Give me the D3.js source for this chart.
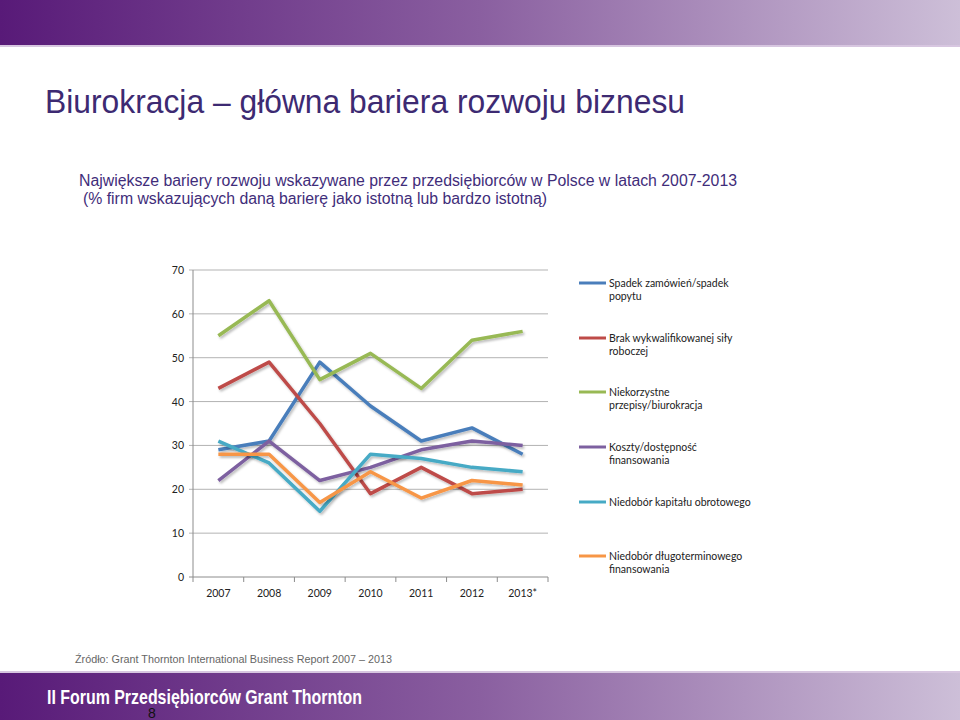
<!doctype html>
<html>
  <head>
    <meta charset="utf-8">
    <title>Biurokracja – główna bariera rozwoju biznesu</title>
    <script src="https://cdnjs.cloudflare.com/ajax/libs/d3/7.8.5/d3.min.js"></script>
    <style>
      body { margin: 0; background: #fff; }
      svg { display: block; }
    </style>
  </head>
  <body>
    <div id="chart"></div>
    <script>
      // lata i wartosci (% firm)
      const years = ['2007', '2008', '2009', '2010', '2011', '2012', '2013*'];
      const yTicks = [0, 10, 20, 30, 40, 50, 60, 70];

      const spadekPopytu = [29, 31, 49, 39, 31, 34, 28];
      const brakSilyRoboczej = [43, 49, 35, 19, 25, 19, 20];
      const biurokracja = [55, 63, 45, 51, 43, 54, 56];
      const kosztyFinansowania = [22, 31, 22, 25, 29, 31, 30];
      const kapitalObrotowy = [31, 26, 15, 28, 27, 25, 24];
      const dlugoterminowe = [28, 28, 17, 24, 18, 22, 21];

      const seriesNames = [
        ['Spadek zamówień/spadek', 'popytu'],
        ['Brak wykwalifikowanej siły', 'roboczej'],
        ['Niekorzystne', 'przepisy/biurokracja'],
        ['Koszty/dostępność', 'finansowania'],
        ['Niedobór kapitału obrotowego'],
        ['Niedobór długoterminowego', 'finansowania']
      ];
      const seriesValues = [spadekPopytu, brakSilyRoboczej, biurokracja,
        kosztyFinansowania, kapitalObrotowy, dlugoterminowe];
      const colors = ['#4a7ebb', '#be4b48', '#98b954', '#7d60a0', '#46aac5', '#f79646'];

      const svg = d3.select('#chart').append('svg')
        .attr('width', 960)
        .attr('height', 720);

      const defs = svg.append('defs');
      const grad = defs.append('linearGradient').attr('id', 'bar');
      grad.append('stop').attr('offset', '0%').attr('stop-color', '#581a78');
      grad.append('stop').attr('offset', '50%').attr('stop-color', '#8a5fa0');
      grad.append('stop').attr('offset', '100%').attr('stop-color', '#cdbfd8');

      const shadow = defs.append('filter').attr('id', 'shadow')
        .attr('x', '-10%').attr('y', '-10%').attr('width', '120%').attr('height', '130%');
      shadow.append('feDropShadow')
        .attr('dx', 1.5).attr('dy', 2).attr('stdDeviation', 1.2)
        .attr('flood-color', '#000').attr('flood-opacity', 0.25);

      // pasek u gory
      svg.append('rect').attr('x', 0).attr('y', 0).attr('width', 960).attr('height', 45)
        .attr('fill', 'url(#bar)');
      svg.append('rect').attr('x', 0).attr('y', 45).attr('width', 960).attr('height', 2)
        .attr('fill', '#d7c6e0');

      // tytul (w oryginale czcionka jest troche scisnieta w poziomie)
      svg.append('text')
        .attr('x', 45).attr('y', 113)
        .attr('textLength', 640)
        .attr('lengthAdjust', 'spacingAndGlyphs')
        .style('font-family', '"Liberation Sans", Arial, sans-serif')
        .style('font-size', '33px')
        .style('fill', '#3d2a72')
        .text('Biurokracja – główna bariera rozwoju biznesu');

      svg.append('text')
        .attr('x', 79).attr('y', 186)
        .attr('textLength', 658)
        .attr('lengthAdjust', 'spacingAndGlyphs')
        .style('font-family', '"Liberation Sans", Arial, sans-serif')
        .style('font-size', '16px')
        .style('fill', '#3f2d7a')
        .text('Największe bariery rozwoju wskazywane przez przedsiębiorców w Polsce w latach 2007-2013');

      svg.append('text')
        .attr('x', 83).attr('y', 204)
        .attr('textLength', 464)
        .attr('lengthAdjust', 'spacingAndGlyphs')
        .style('font-family', '"Liberation Sans", Arial, sans-serif')
        .style('font-size', '16px')
        .style('fill', '#3f2d7a')
        .text('(% firm wskazujących daną barierę jako istotną lub bardzo istotną)');

      // wykres
      const plotLeft = 193, plotRight = 548, plotTop = 270, plotBottom = 577;

      const x = d3.scaleBand().domain(years).range([plotLeft, plotRight]);
      const y = d3.scaleLinear().domain([0, 70]).range([plotBottom, plotTop]);

      svg.append('g')
        .selectAll('line')
        .data(yTicks)
        .join('line')
        .attr('x1', plotLeft - 4).attr('x2', plotRight)
        .attr('y1', d => y(d)).attr('y2', d => y(d))
        .attr('stroke', d => d === 0 ? '#8c8c8c' : '#b3b3b3')
        .attr('stroke-width', 1);

      svg.append('line')
        .attr('x1', plotLeft).attr('x2', plotLeft)
        .attr('y1', plotTop).attr('y2', plotBottom)
        .attr('stroke', '#8c8c8c');

      svg.append('g')
        .selectAll('text')
        .data(yTicks)
        .join('text')
        .attr('x', plotLeft - 9)
        .attr('y', d => y(d) + 4)
        .attr('text-anchor', 'end')
        .style('font-family', 'Lato, "Open Sans", sans-serif')
        .style('font-size', '10.5px')
        .style('fill', '#222')
        .text(d => d);

      const xAxis = d3.axisBottom(x).tickSize(0).tickPadding(13);
      const gx = svg.append('g').attr('transform', `translate(0,${plotBottom})`).call(xAxis);
      gx.select('.domain').remove();
      gx.selectAll('text')
        .style('font-family', 'Lato, "Open Sans", sans-serif')
        .style('font-size', '10.5px')
        .style('fill', '#222');

      // kreski osi x na granicach kategorii
      svg.append('g').selectAll('line')
        .data(d3.range(years.length + 1))
        .join('line')
        .attr('x1', i => plotLeft + i * x.step())
        .attr('x2', i => plotLeft + i * x.step())
        .attr('y1', plotBottom).attr('y2', plotBottom + 5)
        .attr('stroke', '#8c8c8c');

      const line = d3.line()
        .x((d, i) => x(years[i]) + x.bandwidth() / 2)
        .y(d => y(d));

      svg.append('g')
        .selectAll('path')
        .data(seriesValues)
        .join('path')
        .attr('d', d => line(d))
        .attr('fill', 'none')
        .attr('stroke', (d, i) => colors[i])
        .attr('stroke-width', 3.5)
        .attr('stroke-linejoin', 'round')
        .attr('filter', 'url(#shadow)');

      // legenda
      const legendY = [283, 338, 392, 447, 502, 556];
      const legend = svg.append('g')
        .selectAll('g')
        .data(seriesNames)
        .join('g')
        .attr('transform', (d, i) => `translate(579,${legendY[i]})`);

      legend.append('line')
        .attr('x1', 0).attr('x2', 27)
        .attr('y1', 0).attr('y2', 0)
        .attr('stroke', (d, i) => colors[i])
        .attr('stroke-width', 3);

      legend.append('text')
        .attr('x', 30).attr('y', 4)
        .style('font-family', 'Lato, "Open Sans", sans-serif')
        .style('font-size', '10.5px')
        .style('fill', '#222')
        .selectAll('tspan')
        .data(d => d)
        .join('tspan')
        .attr('x', 30)
        .attr('dy', (d, i) => i === 0 ? 0 : 13)
        .text(d => d);

      // zrodlo
      svg.append('text')
        .attr('x', 75).attr('y', 663)
        .attr('textLength', 317)
        .attr('lengthAdjust', 'spacingAndGlyphs')
        .style('font-family', '"Liberation Sans", Arial, sans-serif')
        .style('font-size', '11.5px')
        .style('fill', '#666')
        .text('Źródło: Grant Thornton International Business Report 2007 – 2013');

      // pasek na dole
      svg.append('rect').attr('x', 0).attr('y', 671).attr('width', 960).attr('height', 2)
        .attr('fill', '#d7c6e0');
      svg.append('rect').attr('x', 0).attr('y', 673).attr('width', 960).attr('height', 47)
        .attr('fill', 'url(#bar)');

      svg.append('text')
        .attr('x', 47).attr('y', 704)
        .attr('textLength', 315)
        .attr('lengthAdjust', 'spacingAndGlyphs')
        .style('font-family', '"Liberation Sans", Arial, sans-serif')
        .style('font-size', '21px')
        .style('font-weight', 'bold')
        .style('fill', '#fff')
        .text('II Forum Przedsiębiorców Grant Thornton');

      // numer strony - w oryginale tez nachodzi na napis stopki
      svg.append('text')
        .attr('x', 148).attr('y', 718)
        .style('font-family', '"Liberation Sans", Arial, sans-serif')
        .style('font-size', '14px')
        .style('fill', '#111')
        .text('8');
    </script>
  </body>
</html>
